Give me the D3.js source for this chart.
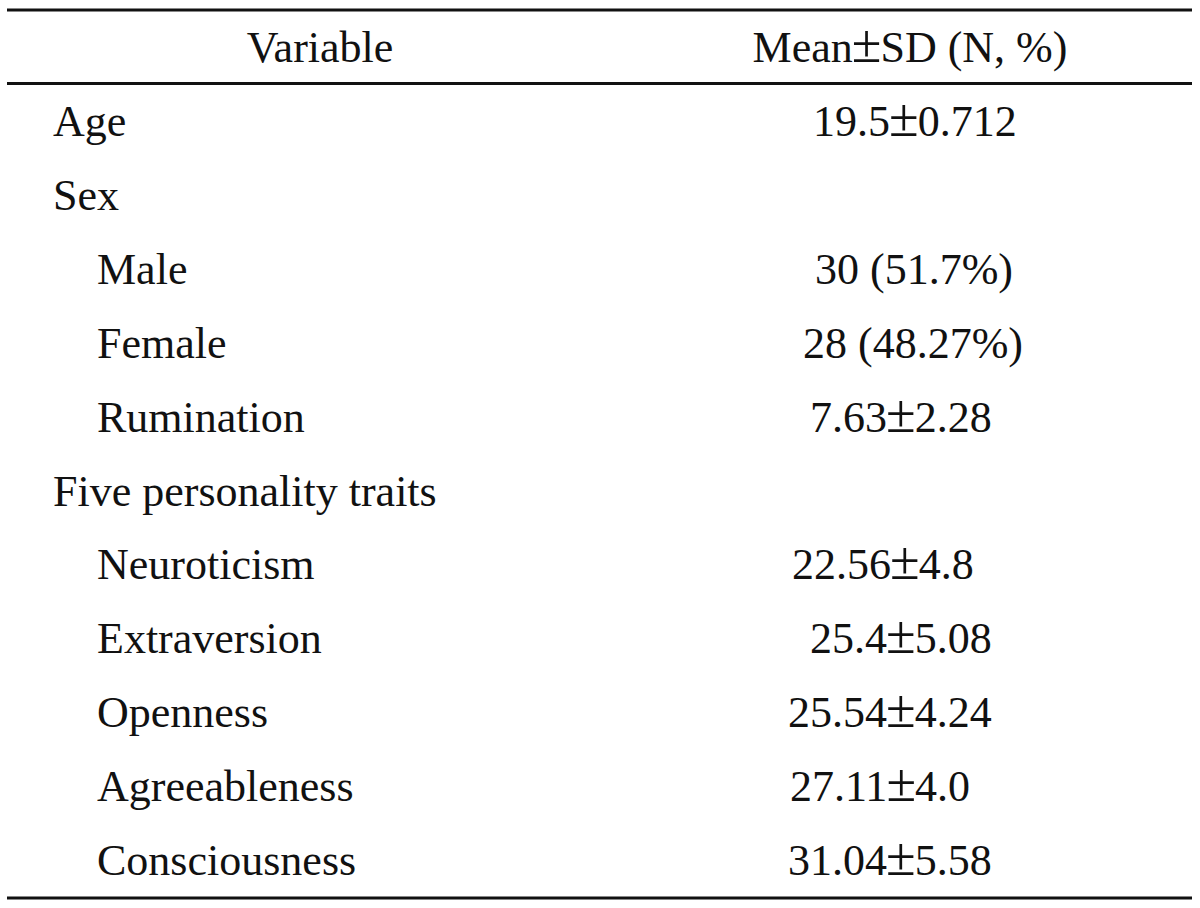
<!DOCTYPE html>
<html>
<head>
<meta charset="utf-8">
<script src="https://cdn.jsdelivr.net/npm/d3@7"></script>
<style>
  html, body { margin: 0; padding: 0; background: #ffffff; }
  svg { display: block; }
  text { font-family: "Liberation Serif", "DejaVu Serif", serif; fill: #111111; }
</style>
</head>
<body>
<svg id="chart" width="1200" height="908"></svg>
<script>
// ---- data ----
const headers = ["Variable", "Mean\u00B1SD (N, %)"];
const variables = ["Age", "Sex", "Male", "Female", "Rumination", "Five personality traits",
                   "Neuroticism", "Extraversion", "Openness", "Agreeableness", "Consciousness"];
const levels = [0, 0, 1, 1, 1, 0, 1, 1, 1, 1, 1];
const values = ["19.5\u00B10.712", "", "30 (51.7%)", "28 (48.27%)", "7.63\u00B12.28", "",
                "22.56\u00B14.8", "25.4\u00B15.08", "25.54\u00B14.24", "27.11\u00B14.0", "31.04\u00B15.58"];

// ---- layout (not data) ----
const W = 1200, H = 908;
const fontSize = 44;
const pmSize = 54;
const lineX0 = 7, lineX1 = 1192;
const lineTop = 10, lineHead = 83.5, lineBottom = 898;
const headerBaseline = 62;
const labelX = [53, 97];
const headerCenters = [320, 910];
const valueStart = [813, 0, 815, 803, 810, 0, 792, 810, 788, 790, 788];

const svg = d3.select("#chart");

// row baselines via a linear scale on the row index
const y = d3.scaleLinear().domain([0, variables.length - 1]).range([136, 875]);

// write a string into a text node, enlarging the ± glyph like the source typeface
function fillText(sel, str) {
  const parts = str.split("\u00B1");
  parts.forEach((p, k) => {
    if (k > 0) sel.append("tspan").attr("font-size", pmSize).attr("dx", -1).text("\u00B1");
    if (p) sel.append("tspan").attr("font-size", fontSize).attr("dx", k > 0 ? -1 : 0).text(p);
  });
}

// rules
const rules = [lineTop, lineHead, lineBottom];
svg.selectAll("line.rule").data(rules).enter().append("line")
  .attr("class", "rule")
  .attr("x1", lineX0).attr("x2", lineX1)
  .attr("y1", d => d).attr("y2", d => d)
  .attr("stroke", "#111").attr("stroke-width", 3);

// header
svg.selectAll("text.header").data(headers).enter().append("text")
  .attr("class", "header")
  .attr("x", (d, i) => headerCenters[i])
  .attr("y", headerBaseline)
  .attr("text-anchor", "middle")
  .attr("font-size", fontSize)
  .each(function(d) { fillText(d3.select(this), d); });

// variable labels
svg.selectAll("text.label").data(variables).enter().append("text")
  .attr("class", "label")
  .attr("x", (d, i) => labelX[levels[i]])
  .attr("y", (d, i) => y(i))
  .attr("font-size", fontSize)
  .text(d => d);

// values
svg.selectAll("text.value").data(values).enter().append("text")
  .attr("class", "value")
  .attr("x", (d, i) => valueStart[i])
  .attr("y", (d, i) => y(i))
  .attr("font-size", fontSize)
  .each(function(d) { fillText(d3.select(this), d); });
</script>
</body>
</html>
